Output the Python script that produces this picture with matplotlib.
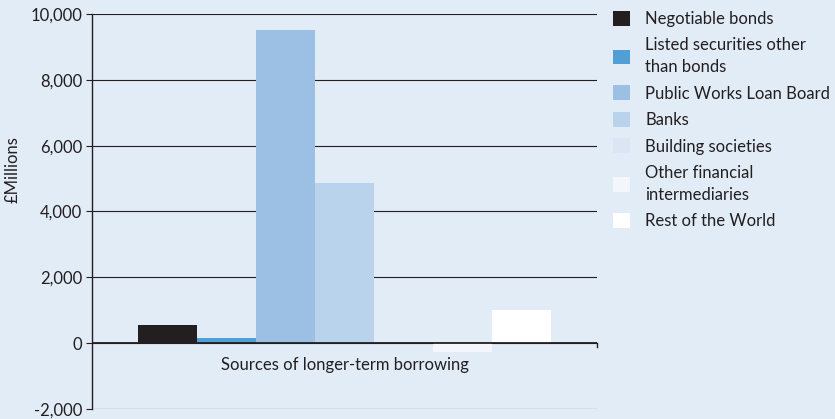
import numpy as np
from matplotlib import pyplot as plt
from matplotlib.patches import Patch

### data
sources = ["Negotiable bonds", "Listed securities other\nthan bonds", "Public Works Loan Board",
           "Banks", "Building societies", "Other financial\nintermediaries", "Rest of the World"]
values = [550, 170, 9500, 4870, 20, -260, 1020]
colours = ["#231F20", "#529FD6", "#9BC0E4", "#B9D3EC", "#DAE6F3", "#F3F7FC", "#FFFFFF"]
category = "Sources of longer-term borrowing"
yticks = [-2000, 0, 2000, 4000, 6000, 8000, 10000]

bg = "#E2ECF6"
ink = "#231F20"
plt.rcParams['font.family'] = ['Lato', 'DejaVu Sans']

fig = plt.figure(figsize=(8.35, 4.19), dpi=100, facecolor=bg)
ax = fig.add_axes([0.1102, 0.0239, 0.6048, 0.9427], facecolor=bg)

### bars side by side around the single category
n = len(values)
width = 0.818 / n
xs = (np.arange(n) - (n - 1) / 2) * width
bars = ax.bar(xs, values, width=width, color=colours, linewidth=0, zorder=3)

ax.set_xlim(-0.5, 0.5)
ax.set_ylim(-2000, 10000)
ax.set_yticks(yticks)
ax.set_yticklabels([f"{t:,}" for t in yticks], fontsize=12, color=ink)
ax.set_xticks([])
ax.tick_params(axis='y', length=4, width=0.8, color=ink, pad=3)
ax.grid(axis='y', color=ink, linewidth=0.8, zorder=0)
for s in ['top', 'right', 'bottom']:
    ax.spines[s].set_visible(False)
ax.spines['left'].set_color(ink)
ax.spines['left'].set_linewidth(1.0)

### zero line with the end tick
ax.axhline(0, color=ink, linewidth=1.3, zorder=4)
ax.plot([0.5, 0.5], [0, -120], color=ink, linewidth=1.0, clip_on=False, zorder=4)
ax.text(0, -670, category, ha='center', va='center', fontsize=12, color=ink)

ax.set_ylabel("£Millions", fontsize=12, color=ink)
ax.yaxis.set_label_coords(-0.142, 0.605)

handles = [Patch(facecolor=c, edgecolor='none') for c in colours]
leg = fig.legend(handles, sources, loc='upper left', bbox_to_anchor=(0.716, 1.01),
                 frameon=False, fontsize=12, handlelength=1.0, handleheight=1.0,
                 handletextpad=0.95, labelspacing=0.62, labelcolor=ink)
for t in leg.get_texts():
    t.set_linespacing(1.45)

fig.savefig("out.png", dpi=100, facecolor=bg)
